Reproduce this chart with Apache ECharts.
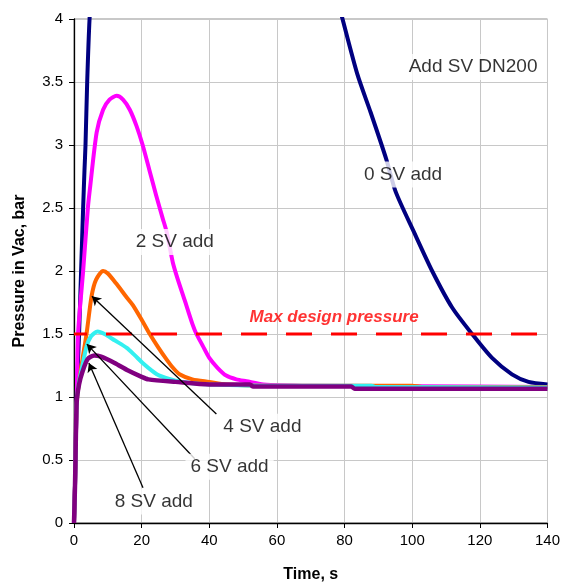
<!DOCTYPE html>
<html>
<head>
<meta charset="utf-8">
<script src="https://cdn.jsdelivr.net/npm/echarts@6/dist/echarts.min.js"></script>
<style>html,body{margin:0;padding:0;background:#fff}#c{width:563px;height:588px}</style>
</head>
<body>
<div id="c"></div>
<script>
// ---- data (time s, pressure bar) ----
const sv0 = [[0,0],[0.3,0.3],[0.5,0.6],[0.8,1.0],[1.2,1.3],[1.5,1.5],[2.1,2.0],[2.7,2.5],[3.1,2.8],[3.4,3.0],[3.9,3.5],[4.6,4.0],[6,4.6],[20,6.5],[50,6.5],[70,5.0],[77,4.25],[79.4,4.0],[83.8,3.56],[87.7,3.26],[92.3,2.89],[95.1,2.63],[100.5,2.31],[105.9,2.0],[111.8,1.71],[117.7,1.5],[123.6,1.31],[129.5,1.18],[134.4,1.12],[140,1.10]];
const sv2 = [[0,0],[0.3,0.3],[0.5,0.6],[0.8,0.95],[1.2,1.5],[2.7,2.0],[4.1,2.5],[4.7,2.65],[6.7,3.1],[8.6,3.28],[10.5,3.36],[12.6,3.39],[14.5,3.36],[16.5,3.28],[18.5,3.15],[20.3,3.0],[22.3,2.8],[24.3,2.6],[26.2,2.42],[27.4,2.31],[29.2,2.07],[30.5,1.95],[32.7,1.77],[35,1.58],[36.2,1.5],[38,1.41],[40,1.31],[42.5,1.23],[45,1.17],[48,1.14],[51,1.125],[56,1.1],[70,1.09],[100,1.085],[140,1.08]];
const sv4 = [[0,0],[0.3,0.3],[0.5,0.6],[0.8,0.95],[1.5,1.12],[2.5,1.3],[3.7,1.5],[5.2,1.8],[6.5,1.93],[8.6,2.0],[10,1.98],[12.5,1.9],[15.6,1.79],[17.4,1.73],[20.3,1.6],[22.4,1.5],[25,1.39],[27.3,1.3],[29,1.24],[31.2,1.18],[35,1.14],[40,1.12],[45,1.10],[60,1.09],[100,1.09],[103,1.08],[140,1.08]];
const sv6 = [[0,0],[0.3,0.3],[0.5,0.6],[0.8,0.95],[1.5,1.12],[2.5,1.25],[3.7,1.4],[5,1.48],[7,1.52],[9,1.5],[12,1.45],[15.6,1.39],[18,1.33],[20.3,1.27],[23,1.21],[25.3,1.17],[30,1.13],[35,1.11],[40,1.10],[60,1.09],[88,1.09],[89,1.08],[140,1.075]];
const sv8 = [[0,0],[0.3,0.3],[0.5,0.6],[0.8,0.96],[1.5,1.1],[2.5,1.2],[4,1.3],[6,1.33],[8,1.32],[12,1.27],[16,1.21],[20,1.16],[22,1.14],[30,1.12],[40,1.10],[52,1.1],[53,1.083],[82,1.083],[83,1.065],[140,1.065]];
const designLimit = [[0,1.5],[140,1.5]];
const annotations = [
  {name:'Add SV DN200', value:[118,3.62]},
  {name:'0 SV add', value:[97.3,2.765]},
  {name:'2 SV add', value:[29.8,2.23]},
  {name:'4 SV add', value:[55.7,0.763]},
  {name:'6 SV add', value:[46.0,0.447]},
  {name:'8 SV add', value:[23.6,0.171]}
];
const designLabel = [{name:'Max design pressure', value:[76.9,1.63]}];
const arrows = [
  [[42.1,0.865],[5.3,1.80]],
  [[35.7,0.51],[3.8,1.42]],
  [[20.4,0.28],[4.4,1.27]]
];
const xTicks = {min:0, max:140, interval:20};
const yTicks = {min:0, max:4, interval:0.5};

const FONT = "'Liberation Sans', Arial, sans-serif";
const chart = echarts.init(document.getElementById('c'), null, {renderer:'canvas'});
function curve(name, data, color, w){
  return {name, type:'line', data, showSymbol:false, symbol:'none', silent:true,
    smooth:0.25,
    lineStyle:{color, width:w, join:'round'}, z:3};
}
chart.setOption({
  animation:false,
  grid:{left:74, right:14, top:19, bottom:61, show:true, borderColor:'#909090', borderWidth:1, backgroundColor:'transparent'},
  xAxis:{type:'value', min:xTicks.min, max:xTicks.max, interval:xTicks.interval,
    name:'Time, s', nameLocation:'middle', nameGap:44,
    nameTextStyle:{fontFamily:FONT, fontWeight:'bold', fontSize:16, color:'#000'},
    axisLine:{onZero:false, lineStyle:{color:'#000', width:1.3}},
    axisTick:{show:true, length:5, inside:false, lineStyle:{color:'#000'}},
    axisLabel:{fontFamily:FONT, fontSize:15, color:'#000', margin:10},
    splitLine:{show:true, lineStyle:{color:'#c8c8c8', width:1}}},
  yAxis:{type:'value', min:yTicks.min, max:yTicks.max, interval:yTicks.interval,
    name:'Pressure in Vac, bar', nameLocation:'middle', nameGap:46,
    nameTextStyle:{fontFamily:FONT, fontWeight:'bold', fontSize:16, color:'#000'},
    axisLine:{show:true, onZero:false, lineStyle:{color:'#000', width:1.3}},
    axisTick:{show:true, length:5, inside:false, lineStyle:{color:'#000'}},
    axisLabel:{fontFamily:FONT, fontSize:15, color:'#000', margin:11},
    splitLine:{show:true, lineStyle:{color:'#c8c8c8', width:1}}},
  series:[
    curve('0 SV add', sv0, '#000080', 4),
    curve('2 SV add', sv2, '#ff00ff', 4),
    curve('4 SV add', sv4, '#ff6600', 4),
    curve('6 SV add', sv6, '#33f0f0', 4),
    curve('8 SV add', sv8, '#800080', 4.5),
    {name:'limit', type:'line', data:designLimit, symbol:'none', silent:true, z:4,
      lineStyle:{color:'#ff0000', width:3, type:[26,19], dashOffset:13}},
    {name:'arrows', type:'line', data:[], silent:true, z:5,
      markLine:{silent:true, animation:false, symbol:['none','arrow'], symbolSize:[8,9],
        lineStyle:{color:'#000', width:1.3, type:'solid'}, label:{show:false}, emphasis:{disabled:true},
        data: arrows.map(a=>[{coord:a[0]},{coord:a[1]}])}},
    {name:'labels', type:'scatter', data:annotations, symbolSize:0, silent:true, z:6,
      label:{show:true, position:'inside', formatter:p=>p.name, fontFamily:FONT, fontSize:19, color:'#000',
        textBorderWidth:0, backgroundColor:'#fff', padding:[4,5,3,5]}},
    {name:'designLabel', type:'scatter', data:designLabel, symbolSize:0, silent:true, z:6,
      label:{show:true, position:'inside', formatter:p=>p.name, fontFamily:FONT, fontSize:17, fontWeight:'bold', fontStyle:'italic', color:'#ff0000', textBorderWidth:0}}
  ]
});
</script>
</body>
</html>
